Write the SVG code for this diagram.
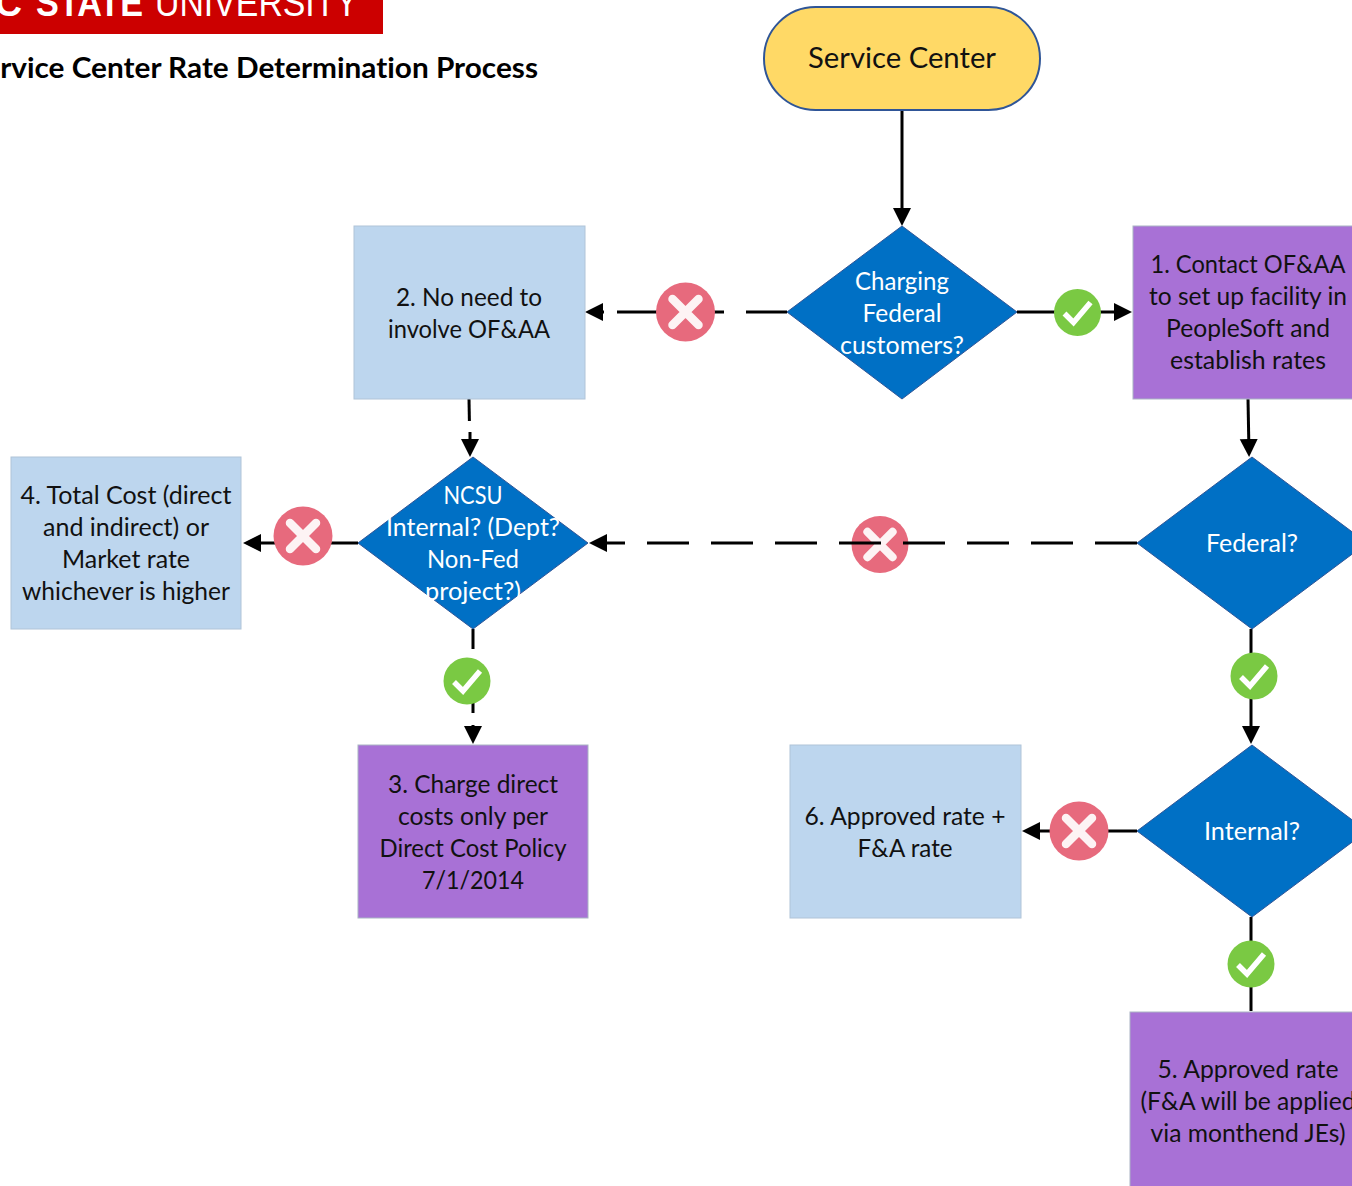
<svg xmlns="http://www.w3.org/2000/svg" width="1352" height="1186" viewBox="0 0 1352 1186">
<defs>
<marker id="arrow" markerUnits="userSpaceOnUse" markerWidth="20" markerHeight="20" refX="14" refY="10" orient="auto"><path d="M0 1 L18 10 L0 19 Z" fill="#000"/></marker>
<g id="no"><circle r="29.5" fill="#e76a7d"/><path d="M-13 -13 L13 13 M13 -13 L-13 13" stroke="#fdf3f4" stroke-width="8.5" stroke-linecap="round" fill="none"/></g>
<g id="yes"><circle r="23.5" fill="#7ac943"/><path d="M-13 1 L-4 10 L13 -10" stroke="#fff" stroke-width="5.5" fill="none"/></g>
</defs>
<style>
text{font-family:"Lato","Open Sans","Liberation Sans",sans-serif;font-size:25px;text-anchor:middle;fill:#111;font-variant-ligatures:none}
.w{fill:#fff}
.logo{font-family:"Liberation Sans",sans-serif;font-size:38px;fill:#fff;text-anchor:start}
.blue{fill:#bdd6ee;stroke:#b0c4d8;stroke-width:1}
.purple{fill:#a871d6;stroke:#a9b4c4;stroke-width:1}
.dia{fill:#0070c5;stroke:#2f5597;stroke-width:1}
.c{fill:none;stroke:#000;stroke-width:3}
.a{marker-end:url(#arrow)}
</style>
<g id="logo"><rect x="0" y="0" width="383" height="34" fill="#cc0000"/>
<text class="logo" x="-5" y="16" font-weight="bold" textLength="27" lengthAdjust="spacingAndGlyphs">C</text>
<text class="logo" x="36" y="16" font-weight="bold" textLength="107" lengthAdjust="spacingAndGlyphs">STATE</text>
<text class="logo" x="155" y="16" textLength="203" lengthAdjust="spacingAndGlyphs">UNIVERSITY</text></g>
<text id="title" x="538" y="78" style="font-size:28px;font-weight:bold;text-anchor:end;fill:#000" textLength="570" lengthAdjust="spacingAndGlyphs">Service Center Rate Determination Process</text>
<g id="icon-under"><use href="#no" transform="translate(880 544.5) scale(.965)"/></g>
<g id="connectors">
<path class="c a" d="M902 110 V222"/>
<path class="c" d="M787 312 H746 M724 312 H617"/><path class="c a" d="M604 312 H589"/>
<path class="c a" d="M1017 312 H1128"/>
<path class="c a" d="M1248 399 L1249 453"/>
<path class="c" d="M469 399 L469.4 421"/><path class="c a" d="M470 432 V453"/>
<path class="c" d="M1137 543 H625" stroke-dasharray="42 22"/><path class="c a" d="M625 543 H593"/>
<path class="c a" d="M358 543 H247"/>
<path class="c" d="M473 629 V649 M473 690 V713"/><path class="c a" d="M473 725 V740"/>
<path class="c a" d="M1251 629 V740"/>
<path class="c a" d="M1137 831 H1026"/>
<path class="c" d="M1251 917 V1011"/>
</g>
<g id="service-center"><rect x="764" y="7" width="276" height="103" rx="51.5" fill="#ffd966" stroke="#2f5597" stroke-width="2"/><text x="902" y="68" style="font-size:29px" textLength="188" lengthAdjust="spacingAndGlyphs">Service Center</text></g>
<g id="n-charging"><path class="dia" d="M902 226 L1017 312 L902 399 L787 312 Z"/><text class="w" x="902" y="290" textLength="94" lengthAdjust="spacingAndGlyphs">Charging</text><text class="w" x="902" y="322" textLength="79" lengthAdjust="spacingAndGlyphs">Federal</text><text class="w" x="902" y="354" textLength="124" lengthAdjust="spacingAndGlyphs">customers?</text></g>
<g id="n-1"><rect class="purple" x="1133" y="226" width="230" height="173"/><text x="1248" y="273" textLength="195" lengthAdjust="spacingAndGlyphs">1. Contact OF&amp;AA</text><text x="1248" y="305" textLength="198" lengthAdjust="spacingAndGlyphs">to set up facility in</text><text x="1248" y="337" textLength="164" lengthAdjust="spacingAndGlyphs">PeopleSoft and</text><text x="1248" y="369" textLength="156" lengthAdjust="spacingAndGlyphs">establish rates</text></g>
<g id="n-2"><rect class="blue" x="354" y="226" width="231" height="173"/><text x="469" y="306" textLength="146" lengthAdjust="spacingAndGlyphs">2. No need to</text><text x="469" y="338" textLength="162" lengthAdjust="spacingAndGlyphs">involve OF&amp;AA</text></g>
<g id="n-federal"><path class="dia" d="M1252 457 L1367 543 L1252 629 L1137 543 Z"/><text class="w" x="1252" y="552" textLength="92" lengthAdjust="spacingAndGlyphs">Federal?</text></g>
<g id="n-ncsu"><path class="dia" d="M473 457 L588 543 L473 629 L358 543 Z"/><text class="w" x="473" y="504" textLength="59" lengthAdjust="spacingAndGlyphs">NCSU</text><text class="w" x="473" y="536" textLength="174" lengthAdjust="spacingAndGlyphs">Internal? (Dept?</text><text class="w" x="473" y="568" textLength="92" lengthAdjust="spacingAndGlyphs">Non-Fed</text><text class="w" x="473" y="600" textLength="96" lengthAdjust="spacingAndGlyphs">project?)</text></g>
<g id="n-4"><rect class="blue" x="11" y="457" width="230" height="172"/><text x="126" y="504" textLength="211" lengthAdjust="spacingAndGlyphs">4. Total Cost (direct</text><text x="126" y="536" textLength="166" lengthAdjust="spacingAndGlyphs">and indirect) or</text><text x="126" y="568" textLength="128" lengthAdjust="spacingAndGlyphs">Market rate</text><text x="126" y="600" textLength="208" lengthAdjust="spacingAndGlyphs">whichever is higher</text></g>
<g id="n-3"><rect class="purple" x="358" y="745" width="230" height="173"/><text x="473" y="793" textLength="170" lengthAdjust="spacingAndGlyphs">3. Charge direct</text><text x="473" y="825" textLength="150" lengthAdjust="spacingAndGlyphs">costs only per</text><text x="473" y="857" textLength="187" lengthAdjust="spacingAndGlyphs">Direct Cost Policy</text><text x="473" y="889" textLength="102" lengthAdjust="spacingAndGlyphs">7/1/2014</text></g>
<g id="n-6"><rect class="blue" x="790" y="745" width="231" height="173"/><text x="905" y="825" textLength="201" lengthAdjust="spacingAndGlyphs">6. Approved rate +</text><text x="905" y="857" textLength="95" lengthAdjust="spacingAndGlyphs">F&amp;A rate</text></g>
<g id="n-internal"><path class="dia" d="M1252 745 L1367 831 L1252 917 L1137 831 Z"/><text class="w" x="1252" y="840" textLength="96" lengthAdjust="spacingAndGlyphs">Internal?</text></g>
<g id="n-5"><rect class="purple" x="1130" y="1012" width="236" height="190"/><text x="1248" y="1078" textLength="181" lengthAdjust="spacingAndGlyphs">5. Approved rate</text><text x="1248" y="1110" textLength="215" lengthAdjust="spacingAndGlyphs">(F&amp;A will be applied</text><text x="1248" y="1142" textLength="195" lengthAdjust="spacingAndGlyphs">via monthend JEs)</text></g>
<g id="icons">
<use href="#no" x="685.5" y="312"/><use href="#yes" x="1077.5" y="312.5"/>
<use href="#no" x="303" y="536"/>
<use href="#yes" x="467" y="681"/><use href="#yes" x="1254" y="676"/>
<use href="#no" x="1079" y="831"/><use href="#yes" x="1251" y="964"/>
</g>
</svg>
